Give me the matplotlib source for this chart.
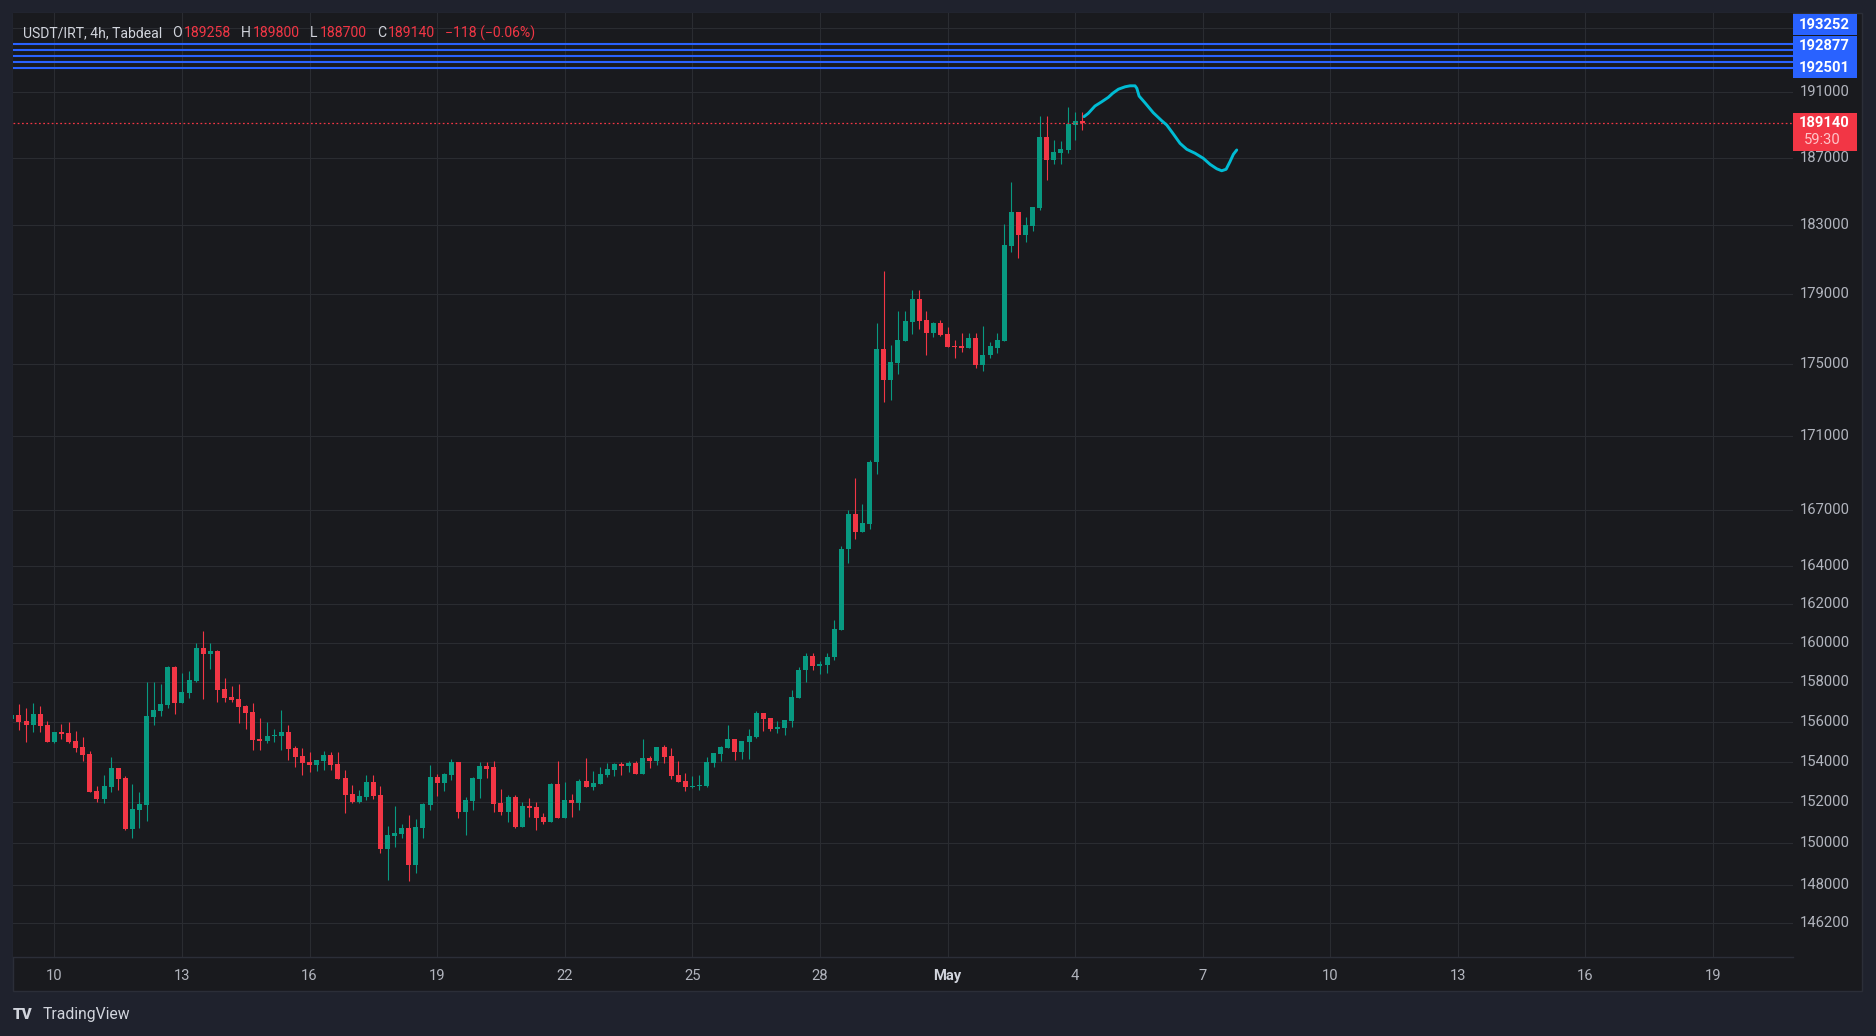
import datetime as dt
import numpy as np
import matplotlib
matplotlib.use("Agg")
import matplotlib.pyplot as plt
import matplotlib.dates as mdates
from matplotlib import transforms, ticker
from matplotlib.patches import Rectangle

plt.rcParams["font.family"] = ["Roboto", "DejaVu Sans"]

# -------------------------------------------------
# Data (4h candles, USDT/IRT)
# -------------------------------------------------
start = dt.datetime(2025, 4, 9, 0, 0)

opens = [
    156120, 156320, 156020, 155820, 156370, 155820, 154990, 155470, 155420, 155020,
    154720, 154370, 152550, 152170, 152760, 153680, 153190, 150710, 151630, 151880,
    156240, 156540, 156840, 158760, 156950, 157450, 158040, 159730, 159440, 159570,
    157640, 157230, 157130, 156780, 156470, 155120, 155040, 155290, 155290, 155470,
    154670, 154270, 153980, 153850, 154040, 154320, 153880, 153190, 152400, 152030,
    152270, 152990, 152350, 149740, 150370, 150470, 150740, 148970, 150740, 151880,
    153240, 152960, 153350, 153980, 151540, 152070, 153150, 153780, 153720, 151970,
    151550, 152260, 150810, 151820, 151770, 151290, 151060, 152890, 151250, 152110,
    151970, 153040, 152750, 152890, 153330, 153580, 153870, 153770, 153920, 153380,
    154170, 154020, 154720, 154270, 153330, 153040, 152750, 152800, 152800, 153920,
    154370, 154670, 155120, 154470, 154970, 155220, 156420, 156170, 155620, 155670,
    156020, 157170, 158620, 159300, 158790, 158840, 159250, 160680, 164880, 166750,
    165790, 166210, 169560, 175880, 174130, 175080, 176330, 177420, 178730, 177530,
    176790, 177360, 176730, 176050, 176050, 175900, 176470, 174980, 175500, 175900,
    176300, 181760, 183760, 182460, 182980, 184000, 188250, 186860, 187280, 187470,
    189000, 189258,
]
highs = [
    156400, 156880, 156680, 156930, 156780, 156020, 155470, 155870, 155970, 155520,
    155220, 154520, 152790, 153330, 154220, 153680, 153290, 152890, 152500, 157990,
    157990, 157890, 158810, 158800, 158450, 158550, 159990, 160610, 159990, 159630,
    158200, 157790, 157890, 156830, 156930, 156170, 155970, 155620, 156580, 155820,
    154770, 154670, 154470, 154080, 154520, 154470, 154470, 153580, 152840, 152600,
    153330, 153330, 152790, 150840, 151800, 150940, 151370, 151180, 151960, 153830,
    153380, 153430, 154130, 153980, 152250, 153240, 153980, 153980, 154020, 152650,
    152360, 152360, 152020, 152210, 152020, 151480, 152940, 154020, 152990, 152410,
    153140, 154170, 153530, 153720, 153920, 153920, 153970, 154020, 154020, 155120,
    154270, 154720, 154820, 154670, 154020, 153430, 153290, 153330, 154220, 154420,
    154770, 155820, 155120, 155020, 155620, 156520, 156420, 156170, 156020, 156070,
    157570, 158740, 159500, 159500, 159090, 159500, 161200, 165040, 166960, 168690,
    167290, 169670, 177360, 180340, 176100, 178050, 178050, 179250, 179250, 178050,
    177420, 177530, 177130, 176350, 176750, 176750, 176750, 177150, 176240, 176750,
    183100, 185570, 183760, 183520, 184060, 189530, 189530, 188070, 188010, 190130,
    189770, 189800,
]
lows = [
    156050, 155570, 154990, 155490, 155490, 154990, 154940, 155140, 154940, 154490,
    154040, 152510, 152030, 151980, 152510, 152610, 150660, 150270, 150760, 151100,
    155840, 156290, 156690, 156390, 156950, 157200, 157990, 157150, 158670, 157000,
    157000, 157000, 155940, 155640, 154590, 154590, 154940, 154990, 154590, 154090,
    153750, 153350, 153500, 153550, 153600, 153600, 153150, 151490, 151980, 151980,
    152120, 152170, 149550, 148270, 149840, 150270, 148200, 148590, 150270, 151630,
    152320, 152560, 153100, 151240, 150420, 151630, 152220, 153200, 151540, 151400,
    151060, 150760, 150810, 151300, 150670, 150960, 151060, 151250, 151250, 151300,
    151640, 152750, 152600, 152890, 153240, 153290, 153330, 153480, 153380, 153380,
    153680, 153820, 153920, 153140, 152990, 152550, 152700, 152600, 152750, 153720,
    154020, 154670, 154070, 154120, 154120, 155170, 155520, 155520, 155420, 155320,
    155720, 157170, 158020, 158630, 158380, 158480, 159100, 160680, 164180, 165460,
    165790, 165950, 168910, 172910, 173020, 174460, 176330, 176730, 177020, 175530,
    176560, 176620, 175990, 175380, 175720, 175900, 174810, 174640, 175380, 175610,
    176300, 181420, 181070, 182050, 182690, 183880, 185670, 186620, 186620, 187280,
    188070, 188700,
]
closes = [
    156320, 155990, 155840, 156370, 155770, 154990, 155470, 155370, 154990, 154690,
    154340, 152510, 152170, 152790, 153680, 153150, 150710, 151670, 151910, 156270,
    156580, 156880, 158760, 156950, 157480, 158090, 159730, 159440, 159570, 157600,
    157200, 157100, 156740, 156440, 155090, 155040, 155270, 155320, 155470, 154640,
    154240, 153940, 153850, 154080, 154320, 153850, 153150, 152370, 152030, 152300,
    152990, 152320, 149740, 150400, 150500, 150740, 148970, 150790, 151910, 153240,
    152960, 153380, 153980, 151540, 152110, 153190, 153780, 153650, 151920, 151550,
    152260, 150810, 151820, 151740, 151250, 151060, 152890, 151250, 152110, 151970,
    153040, 152750, 152940, 153380, 153630, 153870, 153770, 153920, 153380, 154170,
    154020, 154720, 154220, 153290, 152990, 152750, 152800, 152850, 153970, 154420,
    154720, 155120, 154470, 155020, 155270, 156420, 156120, 155620, 155720, 156070,
    157220, 158630, 159300, 158790, 158890, 159250, 160740, 164930, 166750, 165790,
    166270, 169610, 175880, 174130, 175130, 176390, 177480, 178730, 177480, 176790,
    177360, 176680, 175990, 175990, 175900, 176470, 174980, 175530, 176050, 176350,
    181820, 183760, 182460, 183040, 184060, 188250, 186860, 187340, 187530, 189040,
    189258, 189140,
]

# horizontal levels drawn by the user
level_prices = [192501, 192877, 193252, 193627, 194002]
level_labels = [192501, 192877, 193252]
last_price = 189140
countdown = "59:30"

# hand-drawn projection (hours after May 4 00:00, price)
sketch_hours = [5.0, 7.4, 11.2, 15.0, 18.7, 21.2, 24.4, 28.2, 31.0, 33.8,
                34.8, 36.1, 39.4, 44.1, 48.9, 51.7, 55.4, 59.2, 63.0, 67.7,
                72.3, 76.1, 79.9, 82.7, 85.2, 87.4, 89.3, 91.2]
sketch_prices = [189510, 189710, 190160, 190420, 190690, 190940, 191190, 191340, 191400, 191400,
                 191250, 190770, 190360, 189750, 189260, 189000, 188460, 187890, 187530, 187290,
                 186990, 186630, 186360, 186240, 186330, 186790, 187230, 187490]

price_ticks = [191000, 187000, 183000, 179000, 175000, 171000, 167000, 164000,
               162000, 160000, 158000, 156000, 154000, 152000, 150000, 148000, 146200]
hidden_tick = 195000
day_ticks = [dt.datetime(2025, 4, d) for d in (10, 13, 16, 19, 22, 25, 28)] + \
            [dt.datetime(2025, 5, d) for d in (1, 4, 7, 10, 13, 16, 19)]
day_labels = ["10", "13", "16", "19", "22", "25", "28", "May", "4", "7", "10", "13", "16", "19"]

title_head = "USDT/IRT, 4h, Tabdeal"
ohlc_letters = ["O", "H", "L", "C"]
ohlc_values = ["189258", "189800", "188700", "189140"]
change_text = "\u2212118 (\u22120.06%)"

# -------------------------------------------------
# Style
# -------------------------------------------------
W, H = 1876, 1036
OUTER = "#1f222d"
BG = "#191a1e"
GRID = "#2a2c31"
BORDER = "#2b2e38"
TXT = "#b2b5be"
TITLE = "#d1d4dc"
GREEN = "#089981"
RED = "#f23645"
BLUE = "#2962ff"
CYAN = "#00bcd4"
FS = 10.6


def fx(px):
    return px / W


def fy(py):
    return 1 - py / H


fig = plt.figure(figsize=(W / 100, H / 100), dpi=100)
fig.patch.set_facecolor(OUTER)

# chart panel (plot + both axes areas), drawn behind the axes
fig.patches.append(Rectangle((fx(13), fy(991)), (1862 - 13) / W, (991 - 13) / H,
                             transform=fig.transFigure, facecolor=BG,
                             edgecolor=BORDER, linewidth=1.0, zorder=-5))

ax = fig.add_axes([fx(13), fy(957), (1793 - 13) / W, (957 - 13) / H])
ax.set_zorder(1)
ax.set_facecolor(BG)
ax.set_yscale("log")
ax.set_ylim(144621, 195936)
apr10 = mdates.date2num(dt.datetime(2025, 4, 10))
ax.set_xlim(apr10 - 0.9734, apr10 + 40.879)

# grid
ax.set_yticks(price_ticks + [hidden_tick])
ax.yaxis.set_minor_locator(ticker.NullLocator())
ax.set_xticks(mdates.date2num(day_ticks))
ax.xaxis.set_minor_locator(ticker.NullLocator())
ax.grid(True, color=GRID, linewidth=0.8)
ax.set_axisbelow(True)
ax.tick_params(which="both", length=0, labelleft=False, labelbottom=False)
for s in ax.spines.values():
    s.set_visible(False)
ax.spines["bottom"].set_visible(True)
ax.spines["bottom"].set_color(BORDER)
ax.spines["bottom"].set_linewidth(1.0)

# -------------------------------------------------
# Candles
# -------------------------------------------------
o = np.array(opens, float)
h = np.array(highs, float)
l = np.array(lows, float)
c = np.array(closes, float)
times = [start + dt.timedelta(hours=4 * i) for i in range(len(o))]
xs = mdates.date2num(times)
up = c >= o
cols = np.where(up, GREEN, RED)
top = np.maximum(o, c)
bot = np.minimum(o, c)
top = np.maximum(top, bot * 1.00035)   # keep dojis visible
h = np.maximum(h, top)
l = np.minimum(l, bot)

body_w = 5 / 42.53
ax.vlines(xs, l, h, colors=cols, linewidth=0.8, zorder=2)
ax.bar(xs, top - bot, bottom=bot, width=body_w, color=cols, linewidth=0, zorder=3)

# levels and current price
for p in level_prices:
    ax.axhline(p, color=BLUE, linewidth=1.5, zorder=4)
ax.axhline(last_price, color=RED, linewidth=0.9, linestyle=(0, (1.4, 2.0)), zorder=4)

# projection sketch
may4 = mdates.date2num(dt.datetime(2025, 5, 4))
ax.plot(may4 + np.array(sketch_hours) / 24, sketch_prices, color=CYAN,
        linewidth=2.1, solid_capstyle="round", solid_joinstyle="round", zorder=6)

# -------------------------------------------------
# Axis labels
# -------------------------------------------------
ytr = transforms.blended_transform_factory(fig.transFigure, ax.transData)
for p in price_ticks:
    ax.text(fx(1850), p, str(p), transform=ytr, ha="right", va="center",
            color=TXT, fontsize=FS, clip_on=False)

xtr = transforms.blended_transform_factory(ax.transData, fig.transFigure)
for d, lab in zip(day_ticks, day_labels):
    ax.text(mdates.date2num(d), fy(976), lab, transform=xtr, ha="center", va="center",
            color=TXT if lab != "May" else TITLE, fontsize=FS,
            fontweight="bold" if lab == "May" else "normal", clip_on=False)

pix = transforms.IdentityTransform()
x_ref = xs[-1]

# stacked blue labels
prev = None
for p in sorted(level_labels):
    yd = ax.transData.transform((x_ref, p))[1]
    if prev is not None:
        yd = max(yd, prev + 21.5)
    prev = yd
    fig.patches.append(Rectangle((1793, yd - 10.5), 64, 21, transform=pix,
                                 facecolor=BLUE, edgecolor="none", zorder=5))
    fig.text(1850, yd, str(p), transform=pix, ha="right", va="center",
             color="white", fontsize=FS, fontweight="bold", zorder=6)

# current price label with countdown
yl = ax.transData.transform((x_ref, last_price))[1]
fig.patches.append(Rectangle((1793, yl - 28.4), 64, 38.4, transform=pix,
                             facecolor=RED, edgecolor="none", zorder=5))
fig.text(1850, yl, str(last_price), transform=pix, ha="right", va="center",
         color="white", fontsize=FS, fontweight="bold", zorder=6)
fig.text(1804, yl - 17.5, countdown, transform=pix, ha="left", va="center",
         color="#ffc4c9", fontsize=FS, zorder=6)

# -------------------------------------------------
# Title line (legend)
# -------------------------------------------------
pieces = [(title_head, TITLE, 0)]
for letter, val in zip(ohlc_letters, ohlc_values):
    pieces.append((letter, TITLE, 10))
    pieces.append((val, RED, 2))
pieces.append((change_text, RED, 10))

renderer = fig.canvas.get_renderer()
x = 23
for txt, col, gap in pieces:
    x += gap
    t = fig.text(x, H - 33, txt, transform=pix, ha="left", va="center",
                 color=col, fontsize=10.1, zorder=7)
    x = t.get_window_extent(renderer).x1

# TradingView mark
fig.text(fx(13), fy(1015), "TV", ha="left", va="center", color=TITLE,
         fontsize=11, fontweight="heavy")
fig.text(fx(43), fy(1015), "TradingView", ha="left", va="center", color=TITLE,
         fontsize=11.3)

fig.savefig("out.png", dpi=100, facecolor=OUTER)
